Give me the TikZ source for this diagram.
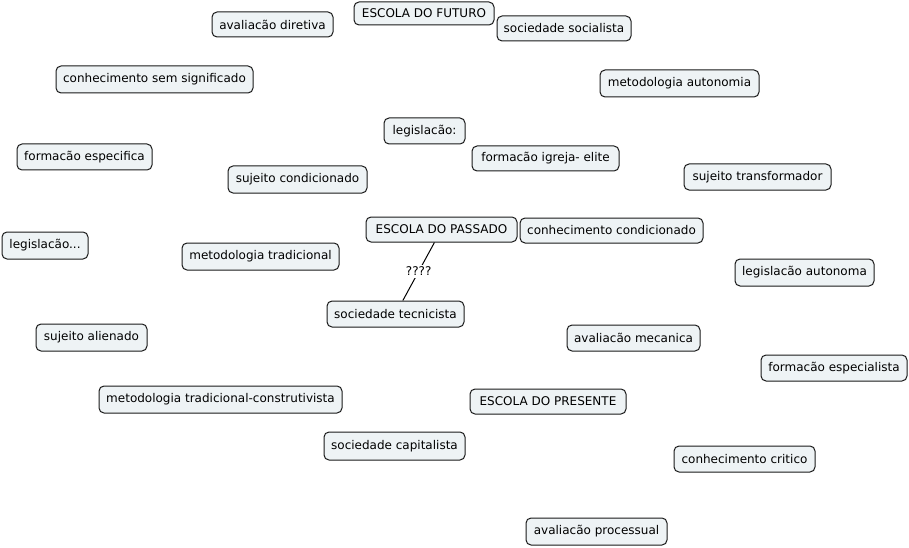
\documentclass[tikz,border=0pt]{standalone}
\usepackage{fontspec}
\setmainfont{DejaVu Sans}
\definecolor{boxfill}{HTML}{EEF3F5}
\definecolor{boxline}{HTML}{1A1A1A}
\begin{document}
\begin{tikzpicture}[x=1pt,y=-1pt,
  box/.style={draw=boxline, line width=1pt, fill=boxfill, rounded corners=5pt,
    inner sep=0pt, align=center, font=\fontsize{12}{14}\selectfont, text=black},
  conn/.style={draw=black, line width=1pt},
  lbl/.style={fill=white, inner sep=2pt, font=\fontsize{12}{14}\selectfont}]
\useasboundingbox (0,0) rectangle (909,548);
\fill[white] (0,0) rectangle (909,548);
\node[box, minimum width=140pt, minimum height=23pt] (futuro) at (424,13.5) {ESCOLA DO FUTURO};
\node[box, minimum width=121pt, minimum height=25pt] (avdir) at (272.5,24.5) {avaliacão diretiva};
\node[box, minimum width=134pt, minimum height=25pt] (socsoc) at (564,28.5) {sociedade socialista};
\node[box, minimum width=197pt, minimum height=27pt] (consem) at (154.5,79.5) {conhecimento sem significado};
\node[box, minimum width=159pt, minimum height=27pt] (metaut) at (679.5,83.5) {metodologia autonomia};
\node[box, minimum width=81pt, minimum height=26pt] (legis) at (424.5,131) {legislacão:};
\node[box, minimum width=135pt, minimum height=26pt] (formesp) at (84.5,157) {formacão especifica};
\node[box, minimum width=147pt, minimum height=25pt] (formig) at (545.5,158.5) {formacão igreja- elite};
\node[box, minimum width=139pt, minimum height=27pt] (sujcond) at (297.5,179.5) {sujeito condicionado};
\node[box, minimum width=147pt, minimum height=26pt] (sujtrans) at (757.5,177) {sujeito transformador};
\node[box, minimum width=151pt, minimum height=25pt] (passado) at (441.5,229.5) {ESCOLA DO PASSADO};
\node[box, minimum width=183pt, minimum height=25pt] (concond) at (611.5,230.5) {conhecimento condicionado};
\node[box, minimum width=86pt, minimum height=27pt] (legdots) at (45,245.5) {legislacão...};
\node[box, minimum width=157pt, minimum height=27pt] (mettrad) at (260.5,256.5) {metodologia tradicional};
\node[box, minimum width=139pt, minimum height=27pt] (legaut) at (804.5,272.5) {legislacão autonoma};
\node[box, minimum width=137pt, minimum height=26pt] (soctec) at (395.5,314) {sociedade tecnicista};
\node[box, minimum width=111pt, minimum height=27pt] (sujal) at (91.5,337.5) {sujeito alienado};
\node[box, minimum width=133pt, minimum height=26pt] (avmec) at (633.5,338) {avaliacão mecanica};
\node[box, minimum width=146pt, minimum height=26pt] (formespec) at (834,368) {formacão especialista};
\node[box, minimum width=243pt, minimum height=27pt] (mettc) at (220.5,399.5) {metodologia tradicional-construtivista};
\node[box, minimum width=156pt, minimum height=25pt] (presente) at (548,401.5) {ESCOLA DO PRESENTE};
\node[box, minimum width=141pt, minimum height=28pt] (soccap) at (394.5,446) {sociedade capitalista};
\node[box, minimum width=141pt, minimum height=26pt] (concrit) at (744.5,459) {conhecimento critico};
\node[box, minimum width=141pt, minimum height=27pt] (avproc) at (596.5,531.5) {avaliacão processual};
\draw[conn] (passado) -- node[lbl] (q) {????} (soctec);
\end{tikzpicture}
\end{document}
